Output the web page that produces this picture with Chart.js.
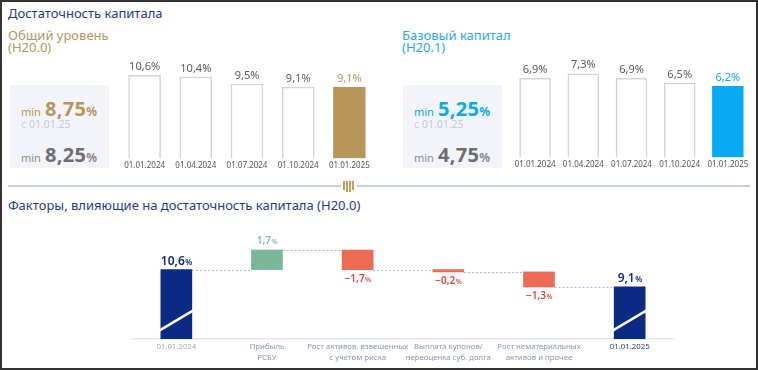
<!DOCTYPE html>
<html>
<head>
<meta charset="utf-8">
<script src="https://cdn.jsdelivr.net/npm/chart.js@4/dist/chart.umd.min.js"></script>
<style>
  body { margin:0; width:758px; height:370px; position:relative; overflow:hidden; background:#fff; font-family:"Noto Sans", "Open Sans", sans-serif; }
  #frame { position:absolute; left:0; top:0; width:754px; height:366px; border:2px solid #333; }
  .abs { position:absolute; white-space:nowrap; }
  .title { font-size:13px; color:#1d3b8b; line-height:16px; }
  .sub { font-size:13px; line-height:12px; }
  .box { position:absolute; width:99px; height:83px; top:85px; background:#f3f4f9; }
  .box .l { position:absolute; left:11px; line-height:24px; height:24px; white-space:nowrap; }
  .box .min { font-size:11px; }
  .box .big { font-size:20px; font-weight:700; letter-spacing:0.3px; }
  .box .pct { font-size:12px; font-weight:700; }
  .box .since { position:absolute; left:11px; top:33px; font-size:10.5px; color:#c3c8e0; line-height:12px; }
  canvas { position:absolute; }
  .hr { position:absolute; top:185px; height:2px; background:#c8cde0; }
</style>
</head>
<body>
<div id="frame"></div>

<div class="abs title" style="left:8px;top:5px;">Достаточность капитала</div>
<div class="abs sub" style="left:8px;top:29px;color:#b99660;">Общий уровень<br>(Н20.0)</div>
<div class="abs sub" style="left:402px;top:29px;color:#2aa8ef;">Базовый капитал<br>(Н20.1)</div>

<div class="box" id="boxL" style="left:10px;"></div>
<div class="box" id="boxR" style="left:403px;"></div>

<canvas id="cL" width="256" height="124" style="left:119px;top:50px;"></canvas>
<canvas id="cR" width="241" height="123" style="left:511px;top:50px;"></canvas>

<div class="hr" style="left:8px;width:333px;"></div>
<div class="abs" style="left:343px;top:180px;width:12px;height:12px;">
  <span class="abs" style="left:0;top:1px;width:2px;height:9px;background:#c59d5a;"></span>
  <span class="abs" style="left:3px;top:1px;width:2px;height:11px;background:#c59d5a;"></span>
  <span class="abs" style="left:6px;top:1px;width:2px;height:11px;background:#c59d5a;"></span>
  <span class="abs" style="left:9px;top:1px;width:2px;height:9px;background:#c59d5a;"></span>
</div>
<div class="hr" style="left:357px;width:393px;"></div>

<div class="abs title" style="left:8px;top:197px;">Факторы, влияющие на достаточность капитала (Н20.0)</div>

<canvas id="cW" width="544" height="138" style="left:131px;top:228px;"></canvas>

<script>
// ---------------- данные ----------------
const dates = ['01.01.2024', '01.04.2024', '01.07.2024', '01.10.2024', '01.01.2025'];
const n200 = [10.6, 10.4, 9.5, 9.1, 9.1];     // Н20.0
const n201 = [6.9, 7.3, 6.9, 6.5, 6.2];       // Н20.1
const minN200 = ['8,75', '8,25'];
const minN201 = ['5,25', '4,75'];
const sinceText = 'с 01.01.25';

const factorLabels = [
  ['01.01.2024'],
  ['Прибыль', 'РСБУ'],
  ['Рост активов, взвешенных', 'с учетом риска'],
  ['Выплата купонов/', 'переоценка суб. долга'],
  ['Рост нематериальных', 'активов и прочее'],
  ['01.01.2025']
];
const factorValues = [10.6, 1.7, -1.7, -0.2, -1.3, 9.1];

const GOLD = '#b8955a';
const SKY = '#08aaf2';
const NAVY = '#0b2a83';
const FONT = '"Noto Sans", "Open Sans", sans-serif';

function fmt(v) {
  let s = Math.abs(v).toFixed(1).replace('.', ',');
  return v < 0 ? '−' + s : s;
}

// ---------------- блоки min ----------------
function fillBox(id, vals, color) {
  document.getElementById(id).innerHTML =
    `<div class="l" style="top:12px;color:${color}"><span class="min">min</span> <span class="big">${vals[0]}</span><span class="pct">%</span></div>
     <div class="since">${sinceText}</div>
     <div class="l" style="top:58px;color:#6d6d6d"><span class="min" style="color:#8a8a8a">min</span> <span class="big">${vals[1]}</span><span class="pct" style="color:#8a8a8a">%</span></div>`;
}
fillBox('boxL', minN200, GOLD);
fillBox('boxR', minN201, SKY);

// ---------------- подписи над столбиками ----------------
const topLabels = {
  id: 'topLabels',
  afterDatasetsDraw(chart, args, opts) {
    const c = chart.ctx;
    const meta = chart.getDatasetMeta(0);
    const data = chart.data.datasets[0].data;
    c.save();
    c.font = '11px ' + FONT;
    c.textAlign = 'center';
    c.textBaseline = 'bottom';
    meta.data.forEach((el, i) => {
      c.fillStyle = i === data.length - 1 ? opts.last : '#5a5a5a';
      c.fillText(fmt(data[i]) + '%', el.x, el.y - 3);
    });
    c.restore();
  }
};

function smallBars(id, values, lastColor, maxY, thick) {
  const n = values.length;
  new Chart(document.getElementById(id), {
    type: 'bar',
    data: {
      labels: dates,
      datasets: [{
        data: values,
        backgroundColor: values.map((v, i) => i === n - 1 ? lastColor : '#ffffff'),
        borderColor: values.map((v, i) => i === n - 1 ? lastColor : '#d4d4d4'),
        borderWidth: 1.5,
        barThickness: thick
      }]
    },
    options: {
      responsive: false,
      animation: false,
      layout: { padding: 0 },
      plugins: { legend: { display: false }, tooltip: { enabled: false }, topLabels: { last: lastColor } },
      scales: {
        x: {
          grid: { display: false, drawTicks: false },
          border: { display: false },
          ticks: { color: '#555', font: { size: 8, family: FONT }, padding: 3, maxRotation: 0, autoSkip: false }
        },
        y: { display: false, min: 0, max: maxY }
      }
    },
    plugins: [topLabels]
  });
}
smallBars('cL', n200, GOLD, 13.84, 32);
smallBars('cR', n201, SKY, 9.38, 31);

// ---------------- водопад ----------------
const Y_MIN = 4.6;   // ось обрезана — итоговые столбики с разрывом
const ranges = [];
const ends = [];
let cum = 0;
factorValues.forEach((v, i) => {
  if (i === 0 || i === factorValues.length - 1) {
    ranges.push([Y_MIN, v]);
    cum = v;
  } else {
    ranges.push([cum, cum + v]);
    cum = cum + v;
  }
  ends.push(cum);
});
const isTotal = i => i === 0 || i === factorValues.length - 1;

const waterfallDecor = {
  id: 'waterfallDecor',
  beforeDatasetsDraw(chart) {
    // пунктир между столбиками
    const c = chart.ctx;
    const meta = chart.getDatasetMeta(0);
    const y = chart.scales.y;
    c.save();
    c.strokeStyle = '#aeb4d4';
    c.lineWidth = 1;
    c.setLineDash([2, 2]);
    for (let i = 0; i < meta.data.length - 1; i++) {
      const a = meta.data[i], b = meta.data[i + 1];
      const py = Math.round(y.getPixelForValue(ends[i])) + 0.5;
      c.beginPath();
      c.moveTo(a.x + a.width / 2, py);
      c.lineTo(b.x - b.width / 2, py);
      c.stroke();
    }
    c.restore();
  },
  afterDatasetsDraw(chart) {
    const c = chart.ctx;
    const meta = chart.getDatasetMeta(0);
    c.save();
    meta.data.forEach((el, i) => {
      const top = Math.min(el.y, el.base);
      const bottom = Math.max(el.y, el.base);
      const left = el.x - el.width / 2, right = el.x + el.width / 2;
      // разрыв оси на итоговых столбиках
      if (isTotal(i)) {
        c.strokeStyle = '#ffffff';
        c.lineWidth = 2.5;
        c.beginPath();
        c.moveTo(left - 2, bottom - 8);
        c.lineTo(right + 4, bottom - 30);
        c.stroke();
      }
      const v = factorValues[i];
      let color, cy;
      if (isTotal(i)) { color = NAVY; cy = top - 9; }
      else if (v > 0) { color = '#86c2a2'; cy = top - 9; }
      else { color = '#d9483b'; cy = bottom + 9; }
      const num = fmt(v);
      const bigF = isTotal(i) ? '600 12px ' + FONT : '600 10px ' + FONT;
      const smallF = isTotal(i) ? '600 8px ' + FONT : '600 7px ' + FONT;
      c.font = bigF;
      const w1 = c.measureText(num).width;
      c.font = smallF;
      const w2 = c.measureText('%').width;
      const x0 = el.x - (w1 + w2) / 2;
      c.fillStyle = color;
      c.textBaseline = 'alphabetic';
      c.textAlign = 'left';
      const base = cy + (isTotal(i) ? 4.5 : 3.5);
      c.font = bigF;
      c.fillText(num, x0, base);
      c.font = smallF;
      c.fillText('%', x0 + w1 + 0.5, base);
    });
    c.restore();
  }
};

new Chart(document.getElementById('cW'), {
  type: 'bar',
  data: {
    labels: factorLabels,
    datasets: [{
      data: ranges,
      backgroundColor: factorValues.map((v, i) => isTotal(i) ? NAVY : (v > 0 ? '#79b799' : '#ec6b52')),
      borderWidth: 0,
      barThickness: 31
    }]
  },
  options: {
    responsive: false,
    animation: false,
    layout: { padding: 0 },
    plugins: { legend: { display: false }, tooltip: { enabled: false } },
    scales: {
      x: {
        grid: { display: false, drawTicks: false },
        border: { display: true, color: '#e6e8f1', width: 1.5 },
        ticks: {
          color: (ctx) => ctx.index === factorLabels.length - 1 ? '#2a3f86' : (ctx.index === 0 ? '#a3a7bd' : '#8b92b6'),
          font: { size: 7.8, family: FONT, lineHeight: 1.35 },
          padding: 3,
          maxRotation: 0,
          minRotation: 0,
          autoSkip: false
        }
      },
      y: { display: false, min: Y_MIN, max: 14.2 }
    }
  },
  plugins: [waterfallDecor]
});
</script>
</body>
</html>
